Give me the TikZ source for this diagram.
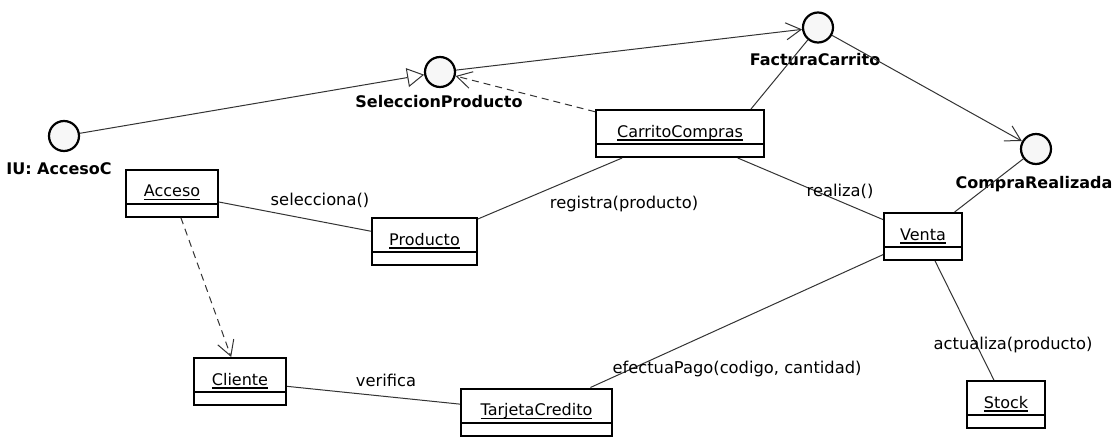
\documentclass[tikz,border=0pt]{standalone}
\usepackage{fontspec}
\setmainfont{DejaVu Sans}
\usetikzlibrary{arrows.meta}
% object name with a fixed-depth underline
\newcommand\objname[1]{\setbox0\hbox{#1}\rlap{\rule[-3.5pt]{\wd0}{1.2pt}}\box0}

\begin{document}
\begin{tikzpicture}[x=1pt,y=-1pt,
  obj/.style={draw, fill=white, line width=2pt, inner xsep=0pt, inner ysep=0pt,
    text height=27pt, text depth=20pt, font=\fontsize{16}{19}\selectfont,
    path picture={\draw[line width=2pt]
      ([yshift=13pt]path picture bounding box.south west) --
      ([yshift=13pt]path picture bounding box.south east);}},
  iface/.style={circle, draw, line width=2.2pt, fill=black!3, minimum size=30pt, inner sep=0pt},
  ilabel/.style={anchor=base, font=\bfseries\fontsize{16}{19}\selectfont},
  msg/.style={anchor=base, font=\fontsize{16.3}{19}\selectfont},
  conn/.style={draw=black!80, line width=1pt},
  dep/.style={conn, dash pattern=on 7pt off 5pt},
  nav/.style={-{Straight Barb[length=15pt,width=17pt]}},
  real/.style={-{Triangle[open,length=17pt,width=19pt]}}
]
\fill[white] (0,0) rectangle (1116,437);
\useasboundingbox (0,0) rectangle (1116,437);

% interfaces
\node[iface] (iu) at (64,136) {};
\node[ilabel] (iulbl) at (59,174.5) {IU: AccesoC};
\node[iface] (selprod) at (440,72) {};
\node[ilabel] (selprodlbl) at (439,107) {SeleccionProducto};
\node[iface] (factura) at (818,27.5) {};
\node[ilabel] (facturalbl) at (815,65) {FacturaCarrito};
\node[iface] (compra) at (1036,149) {};
\node[ilabel] (compralbl) at (1034,188) {CompraRealizada};

% objects
\node[obj, minimum width=92pt] (acceso) at (172,193) {\objname{Acceso}};
\node[obj, minimum width=105pt] (producto) at (424.5,241.5) {\objname{Producto}};
\node[obj, minimum width=168pt] (carrito) at (680,133.5) {\objname{CarritoCompras}};
\node[obj, minimum width=78pt] (venta) at (923,236.5) {\objname{Venta}};
\node[obj, minimum width=92pt] (cliente) at (240,381.5) {\objname{Cliente}};
\node[obj, minimum width=151pt] (tarjeta) at (536.5,412) {\objname{TarjetaCredito}};
\node[obj, minimum width=78pt] (stock) at (1006,404.5) {\objname{Stock}};

% links
\draw[conn, real] (iu) -- (selprod);
\draw[dep, nav] (carrito) -- (selprod);
\draw[conn, nav] (selprod) -- (factura);
\draw[conn] (factura) -- ([xshift=-14pt]carrito.north east);
\draw[conn, nav] (factura) -- (compra);
\draw[conn] (venta) -- (compra);
\draw[conn] (acceso) -- (producto);
\draw[conn] (producto) -- (carrito);
\draw[conn] (carrito) -- (venta);
\draw[dep, nav] (acceso) -- (cliente);
\draw[conn] (cliente) -- (tarjeta);
\draw[conn] (venta) -- (tarjeta);
\draw[conn] (venta) -- (stock);

% messages
\node[msg] (m1) at (320,205) {selecciona()};
\node[msg] (m2) at (624,208) {registra(producto)};
\node[msg] (m3) at (840,196) {realiza()};
\node[msg] (m4) at (386,386) {verifica};
\node[msg] (m5) at (737,373) {efectuaPago(codigo, cantidad)};
\node[msg] (m6) at (1013,349) {actualiza(producto)};
\end{tikzpicture}
\end{document}
